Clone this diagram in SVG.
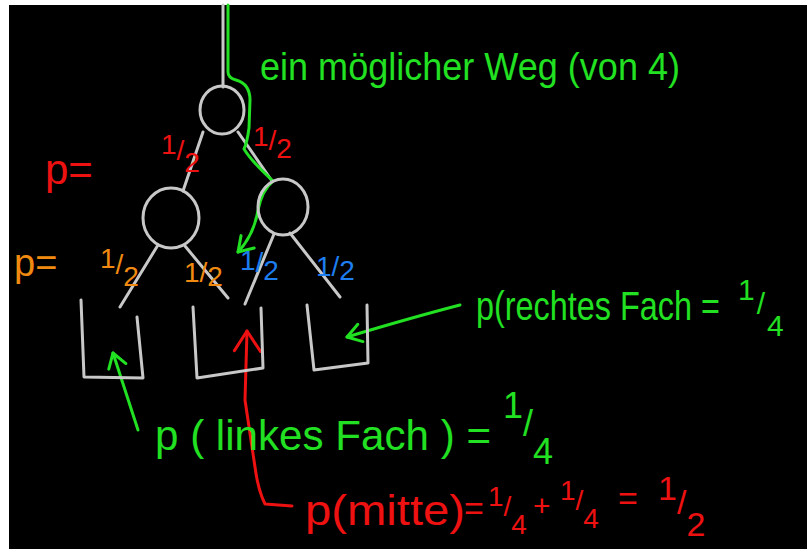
<svg xmlns="http://www.w3.org/2000/svg" width="807" height="549" viewBox="0 0 807 549">
<style>
  .g { stroke:#c8c8c8; stroke-width:3; fill:none; stroke-linecap:round; stroke-linejoin:round; }
  .sg { stroke:#22e022; stroke-width:3; fill:none; stroke-linecap:round; stroke-linejoin:round; }
  .sr { stroke:#ee1111; stroke-width:3; fill:none; stroke-linecap:round; stroke-linejoin:round; }
  text { font-family:"Liberation Sans", Arial, sans-serif; }
  .tg { fill:#22e022; }
  .tr { fill:#ee1111; }
  .to { fill:#f08a10; }
  .tb { fill:#1e7ef0; }
</style>
<defs>
  <marker id="ag" viewBox="-15 -10 17 20" markerWidth="17" markerHeight="20" refX="0" refY="0" orient="auto" markerUnits="userSpaceOnUse" overflow="visible">
    <path d="M-14,-9 L0,0 L-14,9" fill="none" stroke="#22e022" stroke-width="3" stroke-linecap="round" stroke-linejoin="round"/>
  </marker>
  <marker id="ar" viewBox="-15 -10 17 20" markerWidth="17" markerHeight="20" refX="0" refY="0" orient="auto" markerUnits="userSpaceOnUse" overflow="visible">
    <path d="M-20,-12 L0,0 L-20,14" fill="none" stroke="#ee1111" stroke-width="3" stroke-linecap="round" stroke-linejoin="round"/>
  </marker>
</defs>
<rect x="0" y="0" width="807" height="549" fill="#ffffff"/>
<rect x="9" y="5" width="798" height="544" fill="#000000"/>

<g id="connectors">
  <path class="g" d="M223,5 L223,87"/>
  <path class="g" d="M203,132 L183,191"/>
  <path class="g" d="M238,132 L272,181"/>
  <path class="g" d="M158,245 L120,307"/>
  <path class="g" d="M185,246 L228,298"/>
  <path class="g" d="M274,234 L245,304"/>
  <path class="g" d="M290,233 L340,297"/>
  <path class="sg" d="M228,5 L228,72 Q228,78 236,80 Q250,84 250,100 L249,128 Q247,143 244,149 Q252,162 273,181 Q262,190 258,210 Q254,235 238,252" marker-end="url(#ag)"/>
  <path class="sg" d="M138,430 L113,353" marker-end="url(#ag)"/>
  <path class="sg" d="M460,305 Q410,318 347,337" marker-end="url(#ag)"/>
  <path class="sr" d="M292,506 L265,504 Q258,490 255,467 L245,400 L247,331" marker-end="url(#ar)"/>
</g>

<g id="root"><ellipse class="g" cx="222" cy="110" rx="22" ry="24"/></g>
<g id="left-child"><ellipse class="g" cx="171" cy="218" rx="28" ry="30"/></g>
<g id="right-child"><ellipse class="g" cx="283" cy="207" rx="25" ry="28"/></g>

<g id="bin-left"><path class="g" d="M81,300 L84,377 L143,378 L137,317"/></g>
<g id="bin-middle"><path class="g" d="M193,307 L197,378 L263,368 L261,308"/></g>
<g id="bin-right"><path class="g" d="M307,305 L314,370 L368,363 L367,305"/></g>

<g id="title"><text class="tg" x="260" y="80" font-size="38" textLength="420" lengthAdjust="spacingAndGlyphs">ein möglicher Weg (von 4)</text></g>

<g id="level1-labels">
  <text class="tr" x="45" y="184" font-size="42">p=</text>
  <text class="tr" x="161" y="154" font-size="28">1<tspan dy="6">/</tspan><tspan dy="12">2</tspan></text>
  <text class="tr" x="253" y="146" font-size="28">1<tspan dy="4">/</tspan><tspan dy="8">2</tspan></text>
</g>
<g id="level2-labels">
  <text class="to" x="14" y="276" font-size="38">p=</text>
  <text class="to" x="100" y="268" font-size="28">1<tspan dy="6">/</tspan><tspan dy="12">2</tspan></text>
  <text class="to" x="184" y="282" font-size="28">1<tspan>/</tspan><tspan dy="4">2</tspan></text>
  <text class="tb" x="240" y="270" font-size="28">1<tspan dy="2">/</tspan><tspan dy="8">2</tspan></text>
  <text class="tb" x="316" y="276" font-size="28">1<tspan>/</tspan><tspan dy="4">2</tspan></text>
</g>

<g id="label-right">
  <text class="tg" x="476" y="320" font-size="32" textLength="244" lengthAdjust="spacingAndGlyphs" transform="translate(476 320) scale(1 1.25) translate(-476 -320)">p(rechtes Fach =</text>
  <text class="tg" x="738" y="300" font-size="30">1<tspan dx="2" dy="14">/</tspan><tspan dx="2" dy="22">4</tspan></text>
</g>

<g id="label-left">
  <text class="tg" x="155" y="450" font-size="42" textLength="336" lengthAdjust="spacingAndGlyphs">p ( linkes Fach ) =</text>
  <text class="tg" x="503" y="418" font-size="36">1<tspan dy="18">/</tspan><tspan dy="28">4</tspan></text>
</g>

<g id="label-middle">
  <text class="tr" x="305" y="525" font-size="42" textLength="160" lengthAdjust="spacingAndGlyphs">p(mitte)</text>
  <text class="tr" x="464" y="520" font-size="34">=</text>
  <text class="tr" x="488" y="506" font-size="28">1<tspan dy="10">/</tspan><tspan dy="18">4</tspan></text>
  <text class="tr" x="533" y="516" font-size="30">+</text>
  <text class="tr" x="560" y="500" font-size="28">1<tspan dy="10">/</tspan><tspan dy="18">4</tspan></text>
  <text class="tr" x="618" y="510" font-size="34">=</text>
  <text class="tr" x="658" y="500" font-size="34">1<tspan dy="14">/</tspan><tspan dy="22">2</tspan></text>
</g>
</svg>
